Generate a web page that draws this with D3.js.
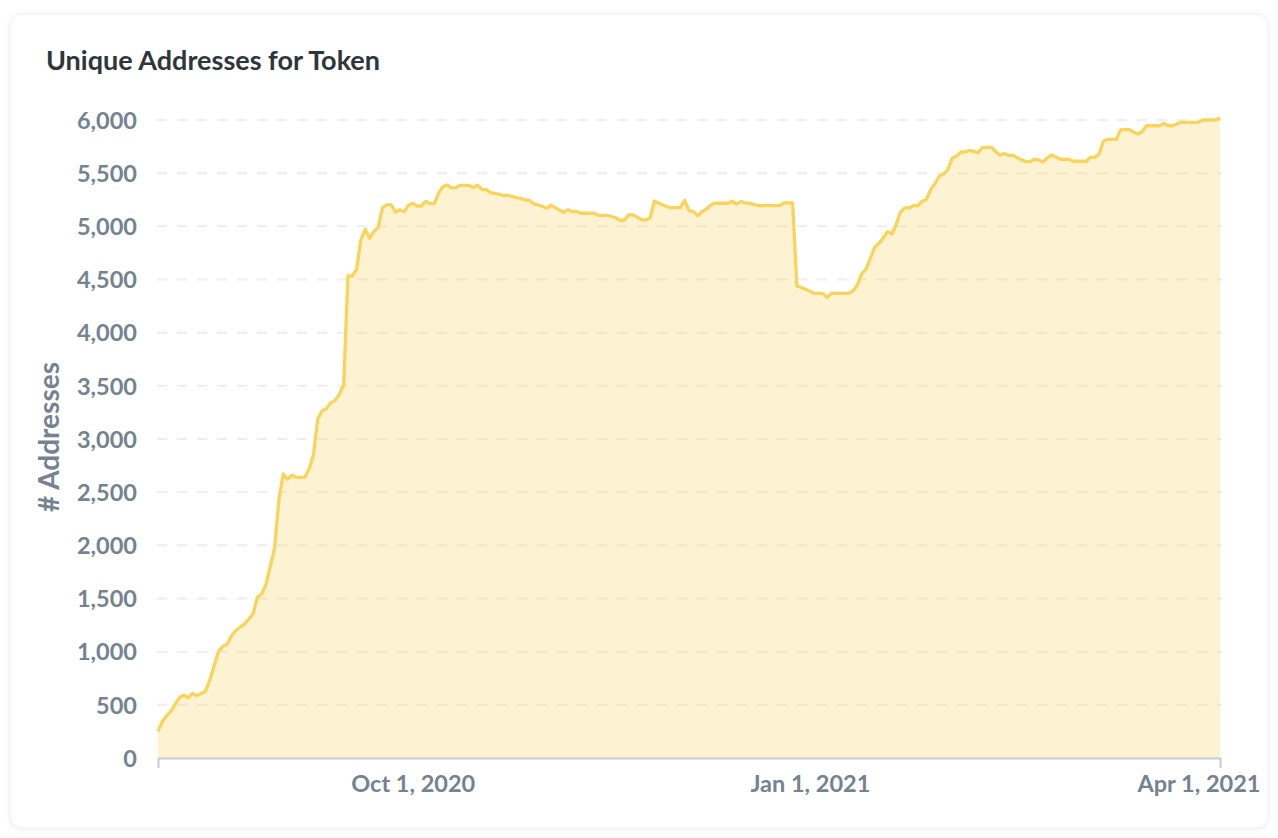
<!DOCTYPE html>
<html>
<head>
<meta charset="utf-8">
<script src="https://cdn.jsdelivr.net/npm/d3@7"></script>
<style>
  html, body { margin: 0; padding: 0; background: #ffffff; }
  body { width: 1278px; height: 838px; overflow: hidden; font-family: Lato, "Open Sans", sans-serif; }
  svg { display: block; }
</style>
</head>
<body>
<svg id="chart" width="1278" height="838"></svg>
<script>
const title = "Unique Addresses for Token";
const yAxisLabel = "# Addresses";

const dates = [
  "2020-08-03","2020-08-04","2020-08-05","2020-08-06","2020-08-07","2020-08-08","2020-08-09","2020-08-10","2020-08-11","2020-08-12",
  "2020-08-14","2020-08-15","2020-08-17","2020-08-18","2020-08-19","2020-08-20","2020-08-21","2020-08-23","2020-08-24","2020-08-25",
  "2020-08-26","2020-08-27","2020-08-28","2020-08-29","2020-08-30","2020-08-31","2020-09-01","2020-09-02","2020-09-03","2020-09-04",
  "2020-09-06","2020-09-07","2020-09-08","2020-09-09","2020-09-10","2020-09-11","2020-09-12","2020-09-13","2020-09-14","2020-09-15",
  "2020-09-16","2020-09-17","2020-09-18","2020-09-19","2020-09-20","2020-09-21","2020-09-22","2020-09-23","2020-09-24","2020-09-25",
  "2020-09-26","2020-09-27","2020-09-28","2020-09-29","2020-09-30","2020-10-01","2020-10-02","2020-10-03","2020-10-04","2020-10-05",
  "2020-10-06","2020-10-07","2020-10-08","2020-10-09","2020-10-10","2020-10-11","2020-10-12","2020-10-14","2020-10-15","2020-10-16",
  "2020-10-17","2020-10-18","2020-10-19","2020-10-20","2020-10-22","2020-10-23","2020-10-25","2020-10-26","2020-10-27","2020-10-28",
  "2020-10-29","2020-10-31","2020-11-01","2020-11-02","2020-11-03","2020-11-05","2020-11-06","2020-11-07","2020-11-08","2020-11-09",
  "2020-11-12","2020-11-13","2020-11-15","2020-11-17","2020-11-18","2020-11-19","2020-11-20","2020-11-21","2020-11-22","2020-11-23",
  "2020-11-24","2020-11-25","2020-11-26","2020-11-27","2020-11-29","2020-11-30","2020-12-02","2020-12-03","2020-12-04","2020-12-05",
  "2020-12-06","2020-12-07","2020-12-08","2020-12-09","2020-12-10","2020-12-13","2020-12-14","2020-12-15","2020-12-16","2020-12-17",
  "2020-12-18","2020-12-20","2020-12-25","2020-12-26","2020-12-28","2020-12-29","2020-12-31","2021-01-02","2021-01-04","2021-01-05",
  "2021-01-06","2021-01-10","2021-01-11","2021-01-12","2021-01-13","2021-01-14","2021-01-15","2021-01-16","2021-01-17","2021-01-18",
  "2021-01-19","2021-01-20","2021-01-21","2021-01-22","2021-01-23","2021-01-24","2021-01-25","2021-01-26","2021-01-27","2021-01-28",
  "2021-01-29","2021-01-30","2021-01-31","2021-02-01","2021-02-02","2021-02-03","2021-02-04","2021-02-05","2021-02-06","2021-02-07",
  "2021-02-09","2021-02-10","2021-02-12","2021-02-13","2021-02-14","2021-02-15","2021-02-16","2021-02-17","2021-02-18","2021-02-20",
  "2021-02-21","2021-02-22","2021-02-23","2021-02-24","2021-02-25","2021-02-26","2021-02-27","2021-02-28","2021-03-02","2021-03-03",
  "2021-03-06","2021-03-07","2021-03-08","2021-03-09","2021-03-10","2021-03-11","2021-03-13","2021-03-14","2021-03-16","2021-03-17",
  "2021-03-18","2021-03-19","2021-03-20","2021-03-23","2021-03-24","2021-03-25","2021-03-26","2021-03-28","2021-04-01","2021-04-02",
  "2021-04-05","2021-04-06"
];

const addresses = [
  250,341,398,439,508,571,590,567,608,586,
  627,733,1000,1047,1069,1147,1197,1260,1304,1354,
  1511,1542,1630,1800,1972,2426,2671,2621,2659,2640,
  2640,2715,2850,3185,3266,3285,3342,3360,3420,3508,
  4533,4533,4596,4872,4972,4888,4950,4991,5175,5201,
  5201,5135,5157,5135,5198,5217,5191,5191,5236,5213,
  5213,5311,5373,5389,5361,5364,5386,5386,5364,5386,
  5348,5345,5317,5311,5292,5292,5270,5263,5248,5245,
  5213,5189,5170,5198,5176,5132,5157,5138,5138,5123,
  5123,5104,5104,5081,5057,5057,5107,5107,5085,5063,
  5060,5081,5238,5217,5182,5176,5176,5245,5147,5141,
  5100,5138,5160,5198,5217,5217,5236,5210,5232,5220,
  5217,5194,5194,5220,5220,4440,4408,4370,4370,4329,
  4370,4370,4392,4448,4552,4596,4699,4803,4840,4890,
  4950,4928,5019,5135,5173,5173,5194,5194,5236,5254,
  5348,5404,5474,5492,5536,5643,5662,5699,5699,5715,
  5693,5743,5743,5705,5668,5686,5668,5668,5646,5608,
  5608,5631,5624,5605,5643,5671,5652,5631,5631,5612,
  5612,5649,5649,5680,5800,5818,5818,5909,5909,5887,
  5868,5893,5946,5946,5968,5946,5946,5978,5978,6000,
  6000,6022
];

const yTicks = [0,500,1000,1500,2000,2500,3000,3500,4000,4500,5000,5500,6000];
const xTickDates = ["2020-10-01","2021-01-01","2021-04-01"];
const xTickLabels = ["Oct 1, 2020","Jan 1, 2021","Apr 1, 2021"];
const xDomain = ["2020-08-03","2021-04-06"];

(function () {
const parse = d3.utcParse("%Y-%m-%d");
const data = dates.map((d, i) => ({ date: parse(d), value: addresses[i] }));

const svg = d3.select("#chart");

// card
const defs = svg.append("defs");
const f = defs.append("filter").attr("id", "shadow").attr("x", "-5%").attr("y", "-5%").attr("width", "110%").attr("height", "110%");
f.append("feDropShadow").attr("dx", 0).attr("dy", 1).attr("stdDeviation", 2.5).attr("flood-color", "#000").attr("flood-opacity", 0.08);
svg.append("rect").attr("x", 10).attr("y", 14).attr("width", 1258).attr("height", 814)
  .attr("rx", 12).attr("fill", "#fff").attr("stroke", "#eef0f2").attr("stroke-width", 1)
  .attr("filter", "url(#shadow)");

svg.append("text").attr("x", 46).attr("y", 70)
  .attr("font-family", "Lato, sans-serif").attr("font-weight", 700).attr("font-size", 27)
  .attr("fill", "#2e353b").text(title);

const mLeft = 158, mRight = 1220, mTop = 120, mBottom = 758;
const x = d3.scaleUtc().domain(xDomain.map(parse)).range([mLeft, mRight]);
const y = d3.scaleLinear().domain([0, 6000]).range([mBottom, mTop]);

// grid
const grid = svg.append("g");
grid.selectAll("line").data(yTicks.filter(t => t > 0)).join("line")
  .attr("x1", mLeft - 1).attr("x2", mRight + 2)
  .attr("y1", d => y(d)).attr("y2", d => y(d))
  .attr("stroke", "#eeeeee").attr("stroke-width", 2).attr("stroke-dasharray", "10,10");

// area + line
const area = d3.area().x(d => x(d.date)).y0(y(0)).y1(d => y(d.value)).curve(d3.curveLinear);
const line = d3.line().x(d => x(d.date)).y(d => y(d.value)).curve(d3.curveLinear);
svg.append("path").datum(data).attr("d", area).attr("fill", "#f9d45c").attr("fill-opacity", 0.28);
svg.append("path").datum(data).attr("d", line).attr("fill", "none")
  .attr("stroke", "#f9d45c").attr("stroke-width", 3.3).attr("stroke-linejoin", "round");

// y axis
const yAxis = svg.append("g").attr("transform", `translate(${mLeft},0)`)
  .call(d3.axisLeft(y).tickValues(yTicks).tickFormat(d3.format(",")).tickSize(0).tickPadding(21));
yAxis.select(".domain").remove();
yAxis.selectAll("text").attr("font-family", "Lato, sans-serif").attr("font-weight", 700)
  .attr("font-size", 23.5).attr("fill", "#74838f").attr("dy", "0.35em");

svg.append("text").attr("transform", `translate(59,437) rotate(-90)`)
  .attr("text-anchor", "middle").attr("font-family", "Lato, sans-serif").attr("font-weight", 700)
  .attr("font-size", 28).attr("fill", "#74838f").text(yAxisLabel);

// x axis
const xAxis = svg.append("g").attr("transform", `translate(0,${mBottom})`)
  .call(d3.axisBottom(x).tickValues(xTickDates.map(parse))
    .tickFormat((d, i) => xTickLabels[i]).tickSize(0).tickSizeOuter(10).tickPadding(17));
xAxis.select(".domain").attr("stroke", "#c5ccd3").attr("stroke-width", 2);
xAxis.selectAll("text").attr("font-family", "Lato, sans-serif").attr("font-weight", 700)
  .attr("font-size", 23.5).attr("fill", "#74838f");
})();
</script>
</body>
</html>
